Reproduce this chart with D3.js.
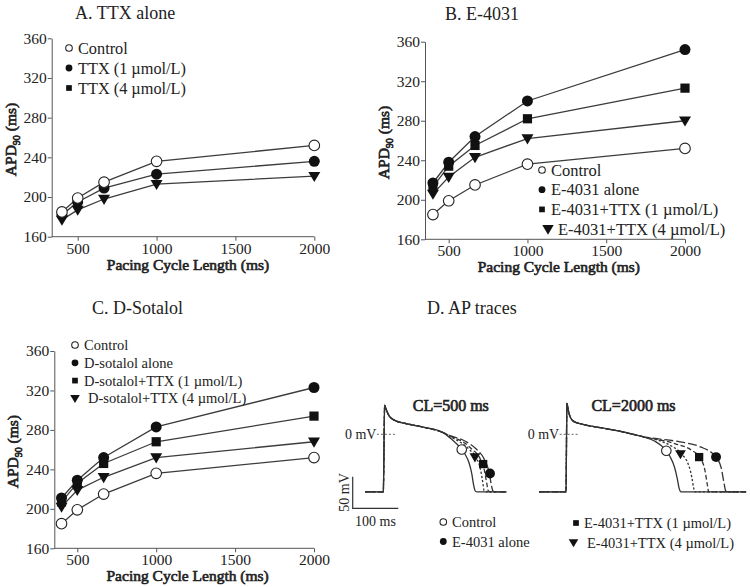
<!DOCTYPE html>
<html><head><meta charset="utf-8">
<script src="https://cdn.jsdelivr.net/npm/d3@7"></script>
<style>
body{margin:0;background:#fff;}
svg, svg text{font-family:"Liberation Serif","Times New Roman",Times,serif;}
</style></head><body>
<svg id="c" width="750" height="587"></svg>
<script>
// ---------- DATA ----------
const cycleLengths = [400, 500, 667, 1000, 2000];
const xTicks = [500, 1000, 1500, 2000];
const yTicks = [160, 200, 240, 280, 320, 360];

const controlAPD   = [185, 199, 215, 236, 252];
// Panel A
const ttx1APD      = [182, 195, 209, 223, 236];
const ttx4APD      = [177, 187, 198, 213, 221];
// Panel B
const e4031APD     = [217, 238, 264, 300, 352];
const e4031ttx1APD = [213, 234, 255, 282, 313];
const e4031ttx4APD = [206, 223, 243, 262, 280];
// Panel C
const sotalolAPD     = [211, 229, 252, 283, 323];
const sotalolttx1APD = [207, 226, 246, 268, 294];
const sotalolttx4APD = [202, 219, 232, 252, 268];

const titles = ["A. TTX alone", "B. E-4031", "C. D-Sotalol", "D. AP traces"];
const legendA = ["Control", "TTX (1 \u00b5mol/L)", "TTX (4 \u00b5mol/L)"];
const legendB = ["Control", "E-4031 alone", "E-4031+TTX (1 \u00b5mol/L)", "E-4031+TTX (4 \u00b5mol/L)"];
const legendC = ["Control", "D-sotalol alone", "D-sotalol+TTX (1 \u00b5mol/L)", "D-sotalol+TTX (4 \u00b5mol/L)"];

// Panel D: AP traces, [time ms, voltage mV]
const ap500Start  = [[-40,-91],[0,-91],[3,46],[6,40],[12,30],[25,22],[50,17],[90,11],[130,3]];
const ap500Control = [[150,-8],[165,-18],[178,-30],[188,-45],[194,-62],[198,-80],[202,-90],[206,-91],[270,-91]];
const ap500Ttx4    = [[150,-5],[170,-13],[190,-25],[205,-38],[213,-55],[218,-75],[221,-89],[225,-91],[270,-91]];
const ap500Ttx1    = [[150,-4],[175,-12],[195,-24],[212,-38],[222,-58],[227,-78],[230,-89],[234,-91],[270,-91]];
const ap500E4031   = [[150,-3],[180,-11],[205,-24],[222,-40],[232,-60],[237,-80],[240,-89],[244,-91],[270,-91]];
const ap500Markers = [[172,-24],[234,-62],[219,-47],[201,-36]];

const ap2000Start  = [[-59,-91],[0,-91],[2,49],[5,38],[10,26],[18,20],[35,16],[80,10],[130,3],[170,-4]];
const ap2000Control = [[195,-11],[215,-22],[228,-35],[238,-52],[244,-70],[248,-85],[252,-91],[395,-91]];
const ap2000Ttx4    = [[200,-9],[230,-18],[255,-32],[268,-47],[276,-68],[280,-85],[283,-91],[395,-91]];
const ap2000Ttx1    = [[200,-8],[240,-15],[275,-25],[295,-38],[305,-58],[310,-80],[313,-91],[395,-91]];
const ap2000E4031   = [[200,-7],[250,-12],[295,-20],[325,-33],[340,-52],[346,-75],[350,-89],[353,-91],[395,-91]];
const ap2000Markers = [[220,-26],[329,-36],[292,-36],[251,-31]];

const legendD = ["Control", "E-4031 alone", "E-4031+TTX (1 \u00b5mol/L)", "E-4031+TTX (4 \u00b5mol/L)"];

// ---------- DRAW ----------
const FONT = "Liberation Serif";
const svg = d3.select("#c");
const LINE = "#3c3c3c";

function bold(t) {
  return t.attr("font-weight", "normal").attr("stroke", "#222").attr("stroke-width", 0.65)
    .attr("paint-order", "stroke").attr("fill", "#222");
}

function marker(g, type, x, y, s) {
  if (type === "open") {
    g.append("circle").attr("cx", x).attr("cy", y).attr("r", 5.3*s)
      .attr("fill", "#fff").attr("stroke", "#222").attr("stroke-width", 1.1);
  } else if (type === "filled") {
    g.append("circle").attr("cx", x).attr("cy", y).attr("r", 5.5*s).attr("fill", "#111");
  } else if (type === "square") {
    const h = 4.6*s;
    g.append("rect").attr("x", x-h).attr("y", y-h).attr("width", 2*h).attr("height", 2*h).attr("fill", "#111");
  } else if (type === "tri") {
    const w = 6*s, h = 5.6*s;
    g.append("path").attr("d", `M${x-w},${y-h*0.75}L${x+w},${y-h*0.75}L${x},${y+h*1.05}Z`).attr("fill", "#111");
  }
}

function linePanel(cfg) {
  const g = svg.append("g").attr("font-family", FONT);
  const x = d3.scaleLinear().domain([500, 2000]).range([cfg.p500, cfg.p2000]);
  const y = d3.scaleLinear().domain([160, 360]).range([cfg.yBot, cfg.yTop]);
  const xa = g.append("g").attr("transform", `translate(0,${cfg.yBot})`)
    .call(d3.axisBottom(x).tickValues(xTicks).tickFormat(d3.format("d")).tickSize(4).tickSizeOuter(0).tickPadding(2));
  xa.select(".domain").remove();
  xa.append("line").attr("x1", cfg.axisLeft).attr("x2", x(2000)).attr("stroke", "#555");
  const ya = g.append("g").attr("transform", `translate(${cfg.axisLeft},0)`)
    .call(d3.axisLeft(y).tickValues(yTicks).tickFormat(d3.format("d")).tickSize(4).tickSizeOuter(0).tickPadding(1));
  [xa, ya].forEach(a => {
    a.attr("font-family", FONT);
    a.selectAll(".domain").attr("stroke", "#555");
    a.selectAll(".tick line").attr("stroke", "#555");
    a.selectAll("text").attr("font-family", FONT).attr("font-size", 15.5).attr("fill", "#222");
  });
  bold(g.append("text").attr("x", (x(500)+x(2000))/2 - 8).attr("y", cfg.yBot + 33)
    .attr("text-anchor", "middle").attr("font-size", 15.5)
    .text("Pacing Cycle Length (ms)"));
  const yt = bold(g.append("text").attr("transform", `translate(${cfg.axisLeft-36},${(cfg.yTop+cfg.yBot)/2 + 2})rotate(-90)`)
    .attr("text-anchor", "middle").attr("font-size", 15.5));
  yt.append("tspan").text("APD");
  yt.append("tspan").attr("font-size", 10).attr("dy", 4).text("90");
  yt.append("tspan").attr("dy", -4).text(" (ms)");
  g.append("text").attr("x", cfg.titleX).attr("y", cfg.titleY).attr("font-size", 18).attr("fill", "#222").text(cfg.title);
  const line = d3.line().x((d, i) => x(cycleLengths[i])).y(d => y(d));
  cfg.series.forEach(s => {
    g.append("path").attr("d", line(s.values)).attr("fill", "none").attr("stroke", LINE).attr("stroke-width", 1.3);
  });
  cfg.series.slice().reverse().forEach(s => {
    s.values.forEach((v, i) => marker(g, s.type, x(cycleLengths[i]), y(v), 1));
  });
  cfg.legend.forEach((l, i) => {
    const ly = cfg.legY + i*cfg.legDy;
    marker(g, l.type, cfg.legX + (l.dx||0), ly, l.type === "tri" ? cfg.triS : 0.62);
    g.append("text").attr("x", cfg.legX + 9 + (l.tdx||0)).attr("y", ly).attr("dy", "0.35em")
      .attr("font-size", cfg.legFont).attr("fill", "#222").text(l.label);
  });
}

linePanel({
  title: titles[0], titleX: 75, titleY: 19,
  p500: 77.7, p2000: 314.3, axisLeft: 51.7, yTop: 38.3, yBot: 236.7,
  series: [
    {values: controlAPD, type: "open"},
    {values: ttx1APD, type: "filled"},
    {values: ttx4APD, type: "tri"}
  ],
  legX: 69, legY: 48, legDy: 20, legFont: 16.3, triS: 0.8,
  legend: [
    {label: legendA[0], type: "open"},
    {label: legendA[1], type: "filled"},
    {label: legendA[2], type: "square"}
  ]
});

linePanel({
  title: titles[1], titleX: 445, titleY: 20,
  p500: 448.7, p2000: 685, axisLeft: 425, yTop: 41.7, yBot: 239.3,
  series: [
    {values: controlAPD, type: "open"},
    {values: e4031APD, type: "filled"},
    {values: e4031ttx1APD, type: "square"},
    {values: e4031ttx4APD, type: "tri"}
  ],
  legX: 542, legY: 170, legDy: 19.7, legFont: 16.5, triS: 0.95,
  legend: [
    {label: legendB[0], type: "open"},
    {label: legendB[1], type: "filled"},
    {label: legendB[2], type: "square"},
    {label: legendB[3], type: "tri", dx: 6, tdx: 7}
  ]
});

linePanel({
  title: titles[2], titleX: 92, titleY: 314,
  p500: 77.3, p2000: 314, axisLeft: 54.3, yTop: 351, yBot: 548.3,
  series: [
    {values: controlAPD, type: "open"},
    {values: sotalolAPD, type: "filled"},
    {values: sotalolttx1APD, type: "square"},
    {values: sotalolttx4APD, type: "tri"}
  ],
  legX: 75, legY: 345, legDy: 17.8, legFont: 14.5, triS: 0.8,
  legend: [
    {label: legendC[0], type: "open"},
    {label: legendC[1], type: "filled"},
    {label: legendC[2], type: "square"},
    {label: legendC[3], type: "tri", dx: 0, tdx: 4}
  ]
});

// ---------- Panel D ----------
const gD = svg.append("g").attr("font-family", FONT);
gD.append("text").attr("x", 427).attr("y", 314).attr("font-size", 18).attr("fill", "#222").text(titles[3]);
const yV = d3.scaleLinear().domain([0, -50]).range([434.3, 465.95]);
const styles = [
  {dash: null},
  {dash: "2.2,2"},
  {dash: "4.5,2.5"},
  {dash: "9,3"}
];
const markerTypes = ["open", "filled", "square", "tri"];
function apTrace(x0, start, tails, marks, label) {
  const xt = d3.scaleLinear().domain([0, 100]).range([x0, x0 + 45.6]);
  const ln = d3.line().x(d => xt(d[0])).y(d => yV(d[1])).curve(d3.curveMonotoneX);
  tails.forEach((tail, i) => {
    const pts = start.concat(tail);
    gD.append("path").attr("d", ln(pts)).attr("fill", "none").attr("stroke", "#333")
      .attr("stroke-width", 1.3).attr("stroke-dasharray", styles[i].dash);
  });
  marks.forEach((m, i) => marker(gD, markerTypes[i], xt(m[0]), yV(m[1]), 0.9));
  gD.append("line").attr("x1", xt(-14)).attr("x2", xt(26)).attr("y1", yV(0)).attr("y2", yV(0))
    .attr("stroke", "#666").attr("stroke-width", 1).attr("stroke-dasharray", "2,2");
  gD.append("text").attr("x", xt(-15)).attr("y", yV(0)).attr("dy", "0.35em").attr("text-anchor", "end")
    .attr("font-size", 14).attr("fill", "#222").text("0 mV");
  bold(gD.append("text").attr("x", xt(148)).attr("y", yV(46)).attr("dy", "0.35em").attr("text-anchor", "middle")
    .attr("font-size", 16).text(label));
}
apTrace(383.3, ap500Start, [ap500Control, ap500Ttx4, ap500Ttx1, ap500E4031], ap500Markers, "CL=500 ms");
apTrace(566, ap2000Start, [ap2000Control, ap2000Ttx4, ap2000Ttx1, ap2000E4031], ap2000Markers, "CL=2000 ms");

const sbT = d3.scaleLinear().domain([0, 100]).range([352.7, 398.3]);
const sbV = d3.scaleLinear().domain([0, 50]).range([508.3, 476.7]);
gD.append("path").attr("d", `M${sbT(0)},${sbV(50)}L${sbT(0)},${sbV(0)}L${sbT(100)},${sbV(0)}`)
  .attr("fill", "none").attr("stroke", "#333").attr("stroke-width", 1.2);
gD.append("text").attr("transform", `translate(${sbT(0)-4},${sbV(25)})rotate(-90)`).attr("text-anchor", "middle")
  .attr("font-size", 14).attr("fill", "#222").text("50 mV");
gD.append("text").attr("x", sbT(50)).attr("y", 521).attr("dy", "0.35em").attr("text-anchor", "middle")
  .attr("font-size", 14).attr("fill", "#222").text("100 ms");

const legDPos = [[443.3, 522, 452], [443.3, 541.5, 452], [576, 523, 584], [573.5, 542.5, 587]];
legendD.forEach((l, i) => {
  const p = legDPos[i];
  marker(gD, markerTypes[i], p[0], p[1], markerTypes[i] === "tri" ? 0.8 : 0.62);
  gD.append("text").attr("x", p[2]).attr("y", p[1]).attr("dy", "0.35em").attr("font-size", 14.5)
    .attr("fill", "#222").text(l);
});
</script>
</body></html>
